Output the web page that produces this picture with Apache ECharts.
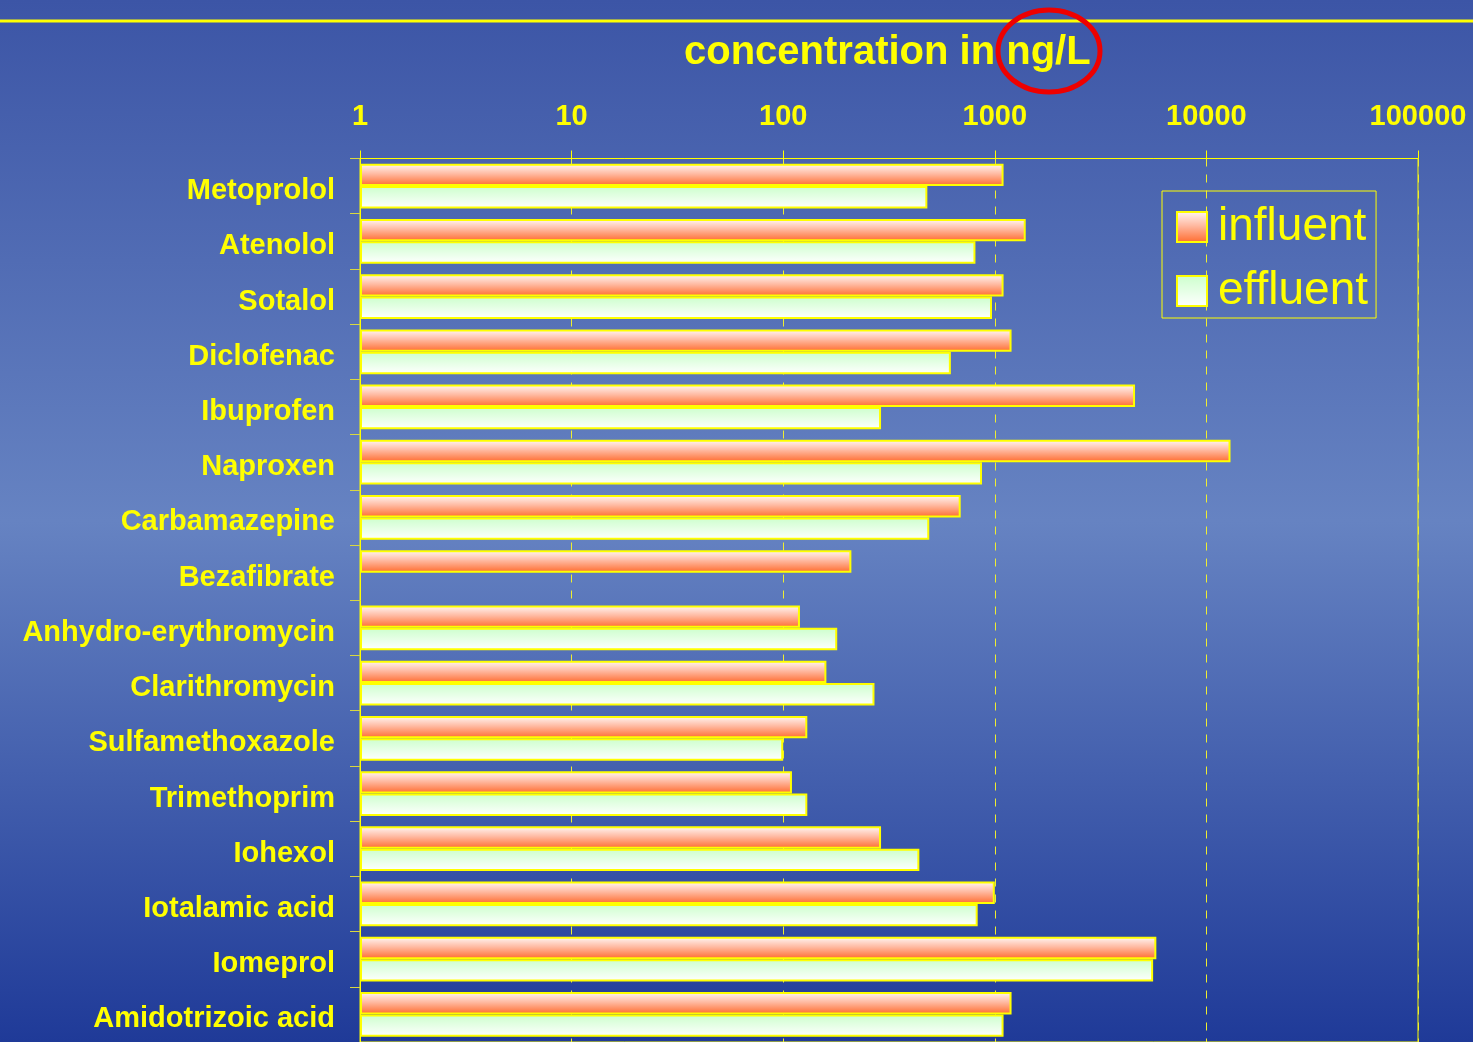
<!DOCTYPE html>
<html>
<head>
<meta charset="utf-8">
<title>concentration in ng/L</title>
<script src="https://cdn.jsdelivr.net/npm/echarts@6/dist/echarts.min.js"></script>
<style>
  html, body { margin: 0; padding: 0; }
  #chart { width: 1473px; height: 1042px; }
</style>
</head>
<body>
<div id="chart"></div>
<script>
// Substances, listed top to bottom
const substances = [
  'Metoprolol', 'Atenolol', 'Sotalol', 'Diclofenac', 'Ibuprofen', 'Naproxen',
  'Carbamazepine', 'Bezafibrate', 'Anhydro-erythromycin', 'Clarithromycin',
  'Sulfamethoxazole', 'Trimethoprim', 'Iohexol', 'Iotalamic acid', 'Iomeprol',
  'Amidotrizoic acid'
];

// Concentrations in ng/L
const influent = [1100, 1400, 1100, 1200, 4600, 13000, 690, 210, 120, 160, 130, 110, 290, 1000, 5800, 1200];
const effluent = [480, 810, 970, 620, 290, 870, 490, null, 180, 270, 100, 130, 440, 830, 5600, 1100];

// Log axis range and tick labels
const axisMin = 1;
const axisMax = 100000;
const tickLabels = ['1', '10', '100', '1000', '10000', '100000'];

const YELLOW = '#ffff00';
const FONT = '"Liberation Sans", Arial, sans-serif';

const chart = echarts.init(document.getElementById('chart'), null, { renderer: 'canvas' });

const influentFill = new echarts.graphic.LinearGradient(0, 0, 0, 1, [
  { offset: 0, color: '#fff8f6' },
  { offset: 0.45, color: '#ffbaa2' },
  { offset: 1, color: '#ff6a2c' }
]);
const effluentFill = new echarts.graphic.LinearGradient(0, 0, 0, 1, [
  { offset: 0, color: '#ccffcc' },
  { offset: 1, color: '#ffffff' }
]);

chart.setOption({
  backgroundColor: new echarts.graphic.LinearGradient(0, 0, 0, 1, [
    { offset: 0, color: '#3c55a6' },
    { offset: 0.5, color: '#6683c2' },
    { offset: 1, color: '#1f3a98' }
  ]),
  animation: false,
  title: {
    text: 'concentration in ng/L',
    left: 684,
    top: 33,
    padding: 0,
    textStyle: {
      color: YELLOW,
      fontFamily: FONT,
      fontWeight: 'bold',
      fontSize: 40
    }
  },
  legend: {
    orient: 'vertical',
    left: 1162,
    top: 191,
    padding: [13, 8, 4, 14],
    itemGap: 18,
    itemWidth: 30,
    itemHeight: 30,
    icon: 'rect',
    borderColor: YELLOW,
    borderWidth: 1,
    textStyle: {
      color: YELLOW,
      fontFamily: FONT,
      fontSize: 46,
      lineHeight: 46,
      padding: [0, 0, 0, 6]
    },
    data: ['influent', 'effluent']
  },
  grid: {
    left: 360,
    right: 55,
    top: 158.5,
    bottom: -2.9,
    show: true,
    borderColor: YELLOW,
    borderWidth: 1,
    backgroundColor: 'transparent'
  },
  xAxis: {
    type: 'log',
    logBase: 10,
    position: 'top',
    min: axisMin,
    max: axisMax,
    axisLine: { show: true, lineStyle: { color: YELLOW, width: 1 } },
    axisTick: { show: true, length: 8, lineStyle: { color: YELLOW } },
    minorTick: { show: false },
    axisLabel: {
      color: YELLOW,
      fontFamily: FONT,
      fontWeight: 'bold',
      fontSize: 29,
      margin: 27,
      formatter: function (v) {
        const i = Math.round(Math.log10(v));
        return tickLabels[i] !== undefined ? tickLabels[i] : '';
      }
    },
    splitLine: {
      show: true,
      lineStyle: { color: '#eeee30', type: [8, 8], width: 1 }
    }
  },
  yAxis: {
    type: 'category',
    inverse: true,
    data: substances,
    axisLine: { show: true, lineStyle: { color: YELLOW, width: 1 } },
    axisTick: { show: true, length: 10, lineStyle: { color: '#d8d840' } },
    axisLabel: {
      color: YELLOW,
      fontFamily: FONT,
      fontWeight: 'bold',
      fontSize: 29,
      margin: 25,
      verticalAlign: 'top',
      lineHeight: 10
    },
    splitLine: { show: false }
  },
  series: [
    {
      name: 'influent',
      type: 'bar',
      data: influent,
      barGap: '0%',
      barCategoryGap: '19%',
      itemStyle: { color: influentFill, borderColor: YELLOW, borderWidth: 2 }
    },
    {
      name: 'effluent',
      type: 'bar',
      data: effluent,
      barGap: '0%',
      barCategoryGap: '19%',
      itemStyle: { color: effluentFill, borderColor: YELLOW, borderWidth: 2 }
    }
  ],
  graphic: [
    {
      type: 'line',
      shape: { x1: 0, y1: 21, x2: 1473, y2: 21 },
      style: { stroke: YELLOW, lineWidth: 3 },
      z: 10
    },
    {
      type: 'ellipse',
      shape: { cx: 1049, cy: 51, rx: 51, ry: 41 },
      style: { fill: null, stroke: '#ee0000', lineWidth: 5 },
      z: 10
    }
  ]
});
</script>
</body>
</html>
